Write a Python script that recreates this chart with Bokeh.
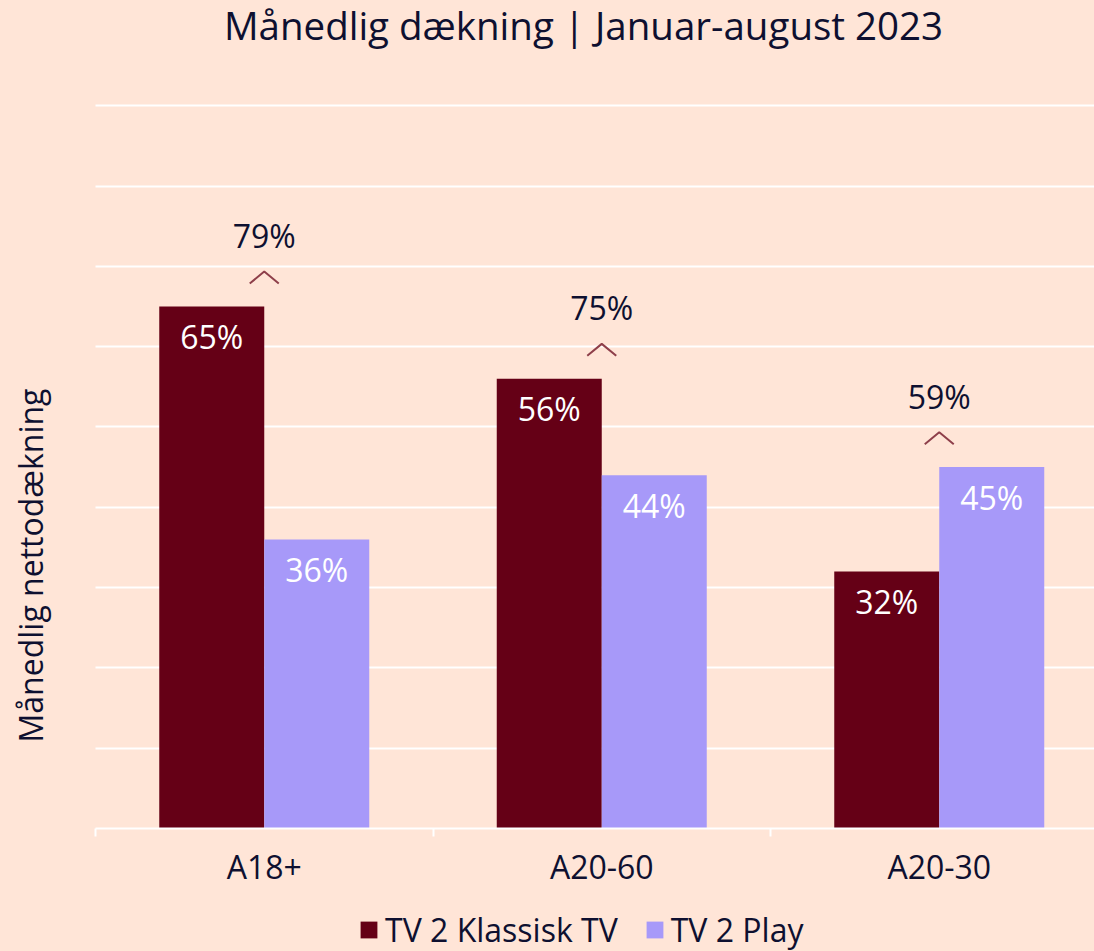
from bokeh.plotting import figure
from bokeh.layouts import column
from bokeh.models import Range1d, FixedTicker, Legend, LegendItem, Label, ColumnDataSource
from bokeh.core.properties import value
from bokeh.embed import file_html
from bokeh.resources import INLINE

# ---- data ----
categories = ["A18+", "A20-60", "A20-30"]
series_names = ["TV 2 Klassisk TV", "TV 2 Play"]
klassisk = [65, 56, 32]
play = [36, 44, 45]
total = [79, 75, 59]
title_text = "Månedlig dækning | Januar-august 2023"
y_title = "Månedlig nettodækning"

# ---- style ----
BG = "#FFE5D7"
DARK = "#650016"
LIGHT = "#A799F9"
TEXT = "#0E1030"
CARET = "#8E3F4A"
FONT = "Open Sans"
FS = "32px"

W, H = 1094, 951
MAIN_H = 890
FRAME_BOTTOM = 830
AXIS_LEFT = 95
PX_PER_UNIT = 8.05  # px per percentage point
CAT_PX = 337.5

n = len(categories)
xc = list(range(n))
bar_w = 105 / CAT_PX
x_k = [i - bar_w / 2 for i in xc]
x_p = [i + bar_w / 2 for i in xc]

x_start = -0.5 - AXIS_LEFT / CAT_PX
x_end = -0.5 + (W - AXIS_LEFT) / CAT_PX

p = figure(width=W, height=MAIN_H,
           x_range=Range1d(x_start, x_end), y_range=Range1d(0, FRAME_BOTTOM / PX_PER_UNIT),
           y_axis_location=None,
           output_backend="svg", toolbar_location=None,
           background_fill_color=BG, border_fill_color=BG,
           outline_line_color=None,
           min_border_left=0, min_border_right=0,
           min_border_top=0, min_border_bottom=MAIN_H - FRAME_BOTTOM)

src_k = ColumnDataSource(dict(x=x_k, top=klassisk, lab=[f"{v}%" for v in klassisk]))
src_p = ColumnDataSource(dict(x=x_p, top=play, lab=[f"{v}%" for v in play]))
p.vbar(x="x", top="top", width=bar_w, bottom=0, source=src_k, fill_color=DARK, line_color=None)
p.vbar(x="x", top="top", width=bar_w, bottom=0, source=src_p, fill_color=LIGHT, line_color=None)

for s in (src_k, src_p):
    p.text(x="x", y="top", text="lab", source=s, text_font=value(FONT), text_font_size=FS,
           text_color="white", text_align="center", text_baseline="middle", y_offset=30)

grp_max = [max(a, b) for a, b in zip(klassisk, play)]
src_t = ColumnDataSource(dict(x=xc, y=grp_max, lab=[f"{v}%" for v in total]))
p.text(x="x", y="y", text="lab", source=src_t, text_font=value(FONT), text_font_size=FS,
       text_color=TEXT, text_align="center", text_baseline="middle", y_offset=-71)

dx = 14.5 / CAT_PX
lo = 23 / PX_PER_UNIT
hi = 35 / PX_PER_UNIT
p.multi_line(xs=[[c - dx, c, c + dx] for c in xc],
             ys=[[m + lo, m + hi, m + lo] for m in grp_max],
             line_color=CARET, line_width=2)

# grid and axis
p.ygrid.ticker = FixedTicker(ticks=list(range(10, 100, 10)))
p.ygrid.grid_line_color = "white"
p.ygrid.grid_line_width = 2
p.ygrid.cross_bounds = (-0.5, x_end)
p.xgrid.visible = False

xa = p.xaxis[0]
xa.bounds = (-0.5, x_end)
xa.ticker = FixedTicker(ticks=xc, minor_ticks=[-0.5 + i for i in range(n + 1)])
xa.major_label_overrides = {i: c for i, c in enumerate(categories)}
xa.axis_line_color = "white"
xa.axis_line_width = 2
xa.major_tick_line_color = None
xa.major_tick_out = 0
xa.major_tick_in = 0
xa.minor_tick_line_color = "white"
xa.minor_tick_line_width = 2
xa.minor_tick_out = 8
xa.minor_tick_in = 0
xa.major_label_standoff = 8
xa.major_label_text_font = FONT
xa.major_label_text_font_size = FS
xa.major_label_text_color = TEXT

# title and y-axis title (screen units relative to frame bottom-left)
p.add_layout(Label(x=583, y=FRAME_BOTTOM - 26, x_units="screen", y_units="screen",
                   text=title_text, text_align="center", text_baseline="middle",
                   text_font=FONT, text_font_size="38.5px", text_color=TEXT))
p.add_layout(Label(x=30, y=FRAME_BOTTOM - 567, x_units="screen", y_units="screen",
                   text=y_title, angle=90, angle_units="deg", text_align="center",
                   text_baseline="middle", text_font=FONT, text_font_size=FS, text_color=TEXT))

# legend strip (proxy bars of zero height carry the legend swatches)
pl = figure(width=W, height=H - MAIN_H, x_range=Range1d(0, 1), y_range=Range1d(0, 1),
            x_axis_location=None, y_axis_location=None,
            output_backend="svg", toolbar_location=None,
            background_fill_color=BG, border_fill_color=BG, outline_line_color=None,
            min_border_left=0, min_border_right=0, min_border_top=0, min_border_bottom=0)
pl.xgrid.visible = False
pl.ygrid.visible = False
proxy = ColumnDataSource(dict(x=[0.5], top=[0]))
lk = pl.vbar(x="x", top="top", bottom=0, width=0, source=proxy, fill_color=DARK, line_color=None)
lp = pl.vbar(x="x", top="top", bottom=0, width=0, source=proxy, fill_color=LIGHT, line_color=None)
legend = Legend(items=[LegendItem(label=series_names[0], renderers=[lk]),
                       LegendItem(label=series_names[1], renderers=[lp])],
                orientation="horizontal", location=(358, 0),
                background_fill_alpha=0, border_line_color=None,
                label_text_font=FONT, label_text_font_size=FS, label_text_color=TEXT,
                glyph_width=21, glyph_height=21, label_standoff=6, spacing=26,
                padding=0, margin=0)
pl.add_layout(legend, "center")

layout = column(p, pl, spacing=0, styles={"background-color": BG})
open("out.html", "w").write(file_html(layout, INLINE))
